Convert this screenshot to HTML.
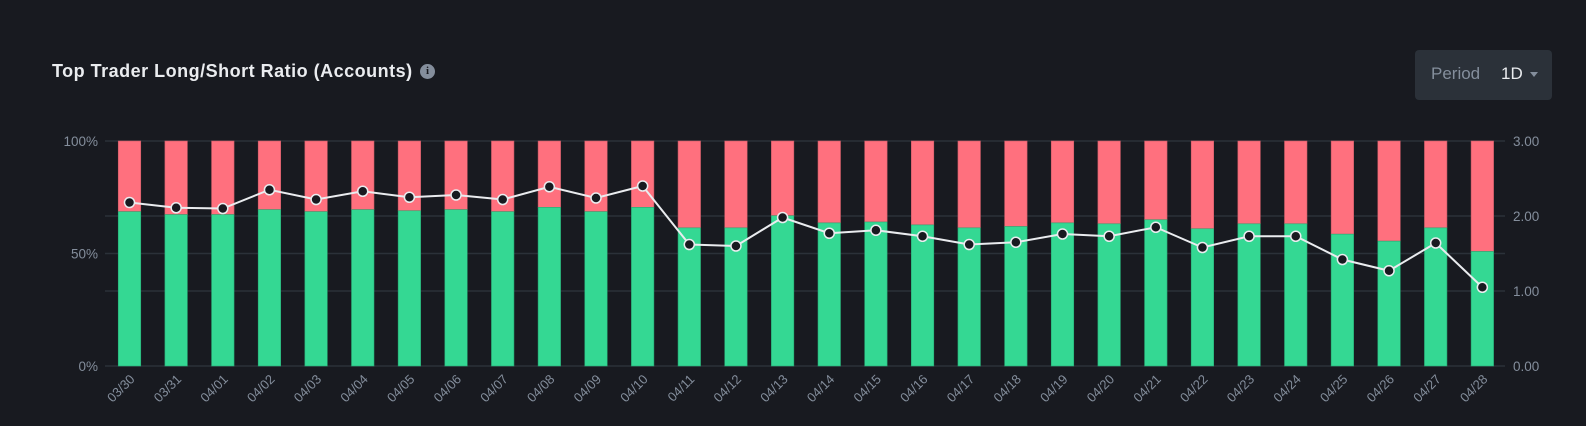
<!DOCTYPE html>
<html><head><meta charset="utf-8"><style>
body{margin:0;background:#181a20;width:1586px;height:426px;overflow:hidden;font-family:"Liberation Sans",sans-serif}
#title{position:absolute;left:52px;top:61px;font-size:18px;font-weight:bold;color:#eaecef;letter-spacing:0.5px}
#info{position:absolute;left:420px;top:64px;width:15px;height:15px;border-radius:50%;background:#848e9c;color:#181a20;font-size:11px;font-weight:bold;text-align:center;line-height:15px;font-family:"Liberation Serif",serif}
#period{position:absolute;left:1415px;top:50px;width:137px;height:50px;background:#2b3139;border-radius:4px}
#period .l{position:absolute;left:16px;top:14px;font-size:17px;color:#848e9c}
#period .v{position:absolute;left:86px;top:14px;font-size:17px;color:#eaecef}
#period .c{position:absolute;left:115px;top:22px;width:0;height:0;border-left:4px solid transparent;border-right:4px solid transparent;border-top:5px solid #848e9c}
svg{position:absolute;left:0;top:0}
</style></head><body>
<div id="title">Top Trader Long/Short Ratio (Accounts)</div>
<div id="info">i</div>
<div id="period"><span class="l">Period</span><span class="v">1D</span><span class="c"></span></div>
<svg id="chart" width="1586" height="426"></svg>
<script>
const categories=["03/30","03/31","04/01","04/02","04/03","04/04","04/05","04/06","04/07","04/08","04/09","04/10","04/11","04/12","04/13","04/14","04/15","04/16","04/17","04/18","04/19","04/20","04/21","04/22","04/23","04/24","04/25","04/26","04/27","04/28"];
const longPct=[68.6,67.3,67.3,69.5,68.6,69.5,69,69.5,68.6,70.5,68.6,70.5,61.4,61.4,66.8,63.6,64,62.7,61.4,62,63.6,63.2,65,61,63.2,63.2,58.6,55.5,61.4,50.9];
const ratio=[2.18,2.11,2.10,2.35,2.22,2.33,2.25,2.28,2.22,2.39,2.24,2.40,1.62,1.60,1.98,1.77,1.81,1.73,1.62,1.65,1.76,1.73,1.85,1.58,1.73,1.73,1.42,1.27,1.64,1.05];
const leftTicks=["0%","50%","100%"];
const leftTickVals=[0,50,100];
const rightTickVals=[0,1,2,3];
const NS="http://www.w3.org/2000/svg";
const svg=document.getElementById('chart');
const top_=141,bot=366,x0=105,x1=1505;
const yPct=v=>bot-(v/100)*(bot-top_);
const yR=v=>bot-(v/3)*(bot-top_);
const xC=i=>129.5+i*46.65;
const bw=22.5;
function mk(t,a){const e=document.createElementNS(NS,t);for(const k in a)e.setAttribute(k,a[k]);svg.appendChild(e);return e;}
const grids=[yPct(0),yPct(50),yPct(100),yR(1),yR(2)];
grids.forEach(y=>{const g=mk('line',{x1:x0,x2:x1,y1:y,y2:y,stroke:'#2b3139','stroke-width':1.5});

});
leftTicks.forEach((t,i)=>{const e=mk('text',{x:98,y:yPct(leftTickVals[i])+5,'text-anchor':'end',fill:'#848e9c','font-size':13.5});e.textContent=t;

});
rightTickVals.forEach(v=>{const e=mk('text',{x:1513,y:yR(v)+5,fill:'#848e9c','font-size':13.5});e.textContent=v.toFixed(2);

});
categories.forEach((c,i)=>{const x=xC(i)-bw/2;
const r=mk('rect',{x:x,y:yPct(100),width:bw,height:yPct(longPct[i])-yPct(100),fill:'#ff707e',stroke:'#c85a66','stroke-width':0.6});


const g=mk('rect',{x:x,y:yPct(longPct[i]),width:bw,height:bot-yPct(longPct[i]),fill:'#34d893',stroke:'#27a873','stroke-width':0.6});


const t=mk('text',{x:0,y:0,'text-anchor':'end',fill:'#848e9c','font-size':13,transform:`translate(${xC(i)+6},${bot+14}) rotate(-45)`});t.textContent=c;

});
const pl=mk('polyline',{points:ratio.map((v,i)=>xC(i)+','+yR(v)).join(' '),fill:'none',stroke:'#eaecef','stroke-width':2});


ratio.forEach((v,i)=>{const d=mk('circle',{cx:xC(i),cy:yR(v),r:5,fill:'#181a20',stroke:'#eaecef','stroke-width':1.5});

});
</script>
</body></html>
